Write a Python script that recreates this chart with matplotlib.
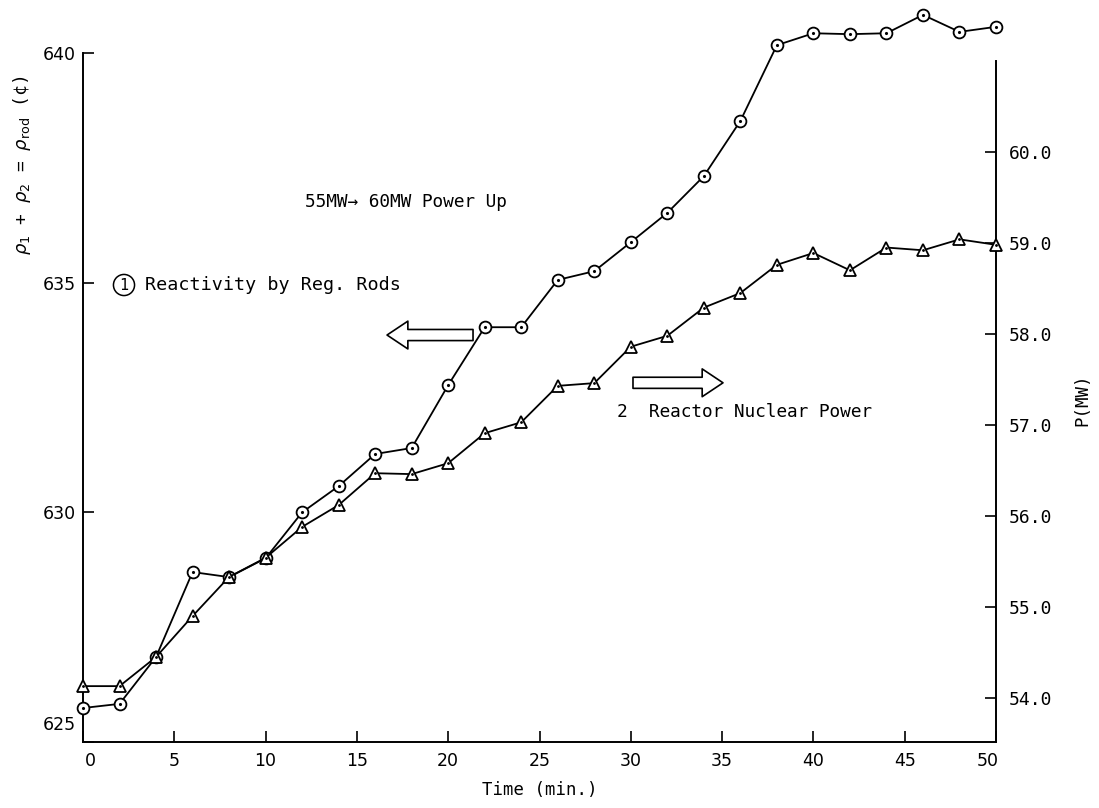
import numpy as np
import matplotlib
matplotlib.use("Agg")
import matplotlib.pyplot as plt
from matplotlib.transforms import ScaledTranslation

# ----------------------------
# Data: 55MW -> 60MW power up
# ----------------------------
time_min = [0, 2, 4, 6, 8, 10, 12, 14, 16, 18, 20, 22, 24, 26, 28, 30,
            32, 34, 36, 38, 40, 42, 44, 46, 48, 50]

# reactivity of the regulating rods (left axis)
rho_rod = [625.74, 625.83, 626.85, 628.70, 628.59, 629.00, 630.00, 630.57,
           631.27, 631.40, 632.77, 634.03, 634.03, 635.06, 635.25, 635.88,
           636.52, 637.32, 638.52, 640.17, 640.43, 640.41, 640.43, 640.83,
           640.46, 640.57]

# reactor nuclear power (right axis)
power_mw = [54.13, 54.13, 54.45, 54.90, 55.33, 55.54, 55.88, 56.12, 56.47,
            56.46, 56.58, 56.91, 57.03, 57.43, 57.46, 57.86, 57.98, 58.29,
            58.45, 58.76, 58.89, 58.70, 58.95, 58.92, 59.04, 58.98]

x_ticks = [0, 5, 10, 15, 20, 25, 30, 35, 40, 45, 50]
rho_ticks = [625, 630, 635, 640]
power_ticks = [54.0, 55.0, 56.0, 57.0, 58.0, 59.0, 60.0]

W, H = 1099, 808
MONO = "DejaVu Sans Mono"

def fx(x):
    return x / W

def fy(y):
    return 1 - y / H

fig = plt.figure(figsize=(W / 100, H / 100), dpi=100)
ax = fig.add_axes([fx(83), fy(742), (996 - 83) / W, (742 - 53) / H])
ax2 = ax.twinx()

# ----------------------------
# Series
# ----------------------------
ax.plot(time_min, rho_rod, color="black", lw=1.3, marker="o", ms=8.5,
        mfc="white", mec="black", mew=1.3, clip_on=False, zorder=3)
ax.plot(time_min, rho_rod, ls="none", marker=".", ms=2.5, color="black",
        clip_on=False, zorder=4)

ax2.plot(time_min, power_mw, color="black", lw=1.3, marker="^", ms=9,
         mfc="white", mec="black", mew=1.3, clip_on=False, zorder=3)
ax2.plot(time_min, power_mw, ls="none", marker=".", ms=2, color="black",
         clip_on=False, zorder=4)

# ----------------------------
# Axes
# ----------------------------
ax.set_xlim(0, 50)
ax.set_ylim(625, 640)
ax2.set_ylim(53.516, 61.088)

for s in ["top", "right"]:
    ax.spines[s].set_visible(False)
for s in ["top", "left", "bottom"]:
    ax2.spines[s].set_visible(False)
ax2.spines["right"].set_bounds(53.516, 61.0)
for sp in [ax.spines["left"], ax.spines["bottom"], ax2.spines["right"]]:
    sp.set_linewidth(1.4)

ax.set_xticks(x_ticks)
ax.set_xticklabels([str(t) for t in x_ticks])
ax.set_yticks(rho_ticks)
ax.set_yticklabels([str(t) for t in rho_ticks])
ax2.set_yticks(power_ticks)
ax2.set_yticklabels([f"{p:.1f}" for p in power_ticks], family=MONO)

ax.tick_params(axis="x", direction="in", length=8, width=1.2, pad=7,
               labelsize=12.5)
ax.tick_params(axis="y", direction="in", length=8, width=1.2, pad=5,
               labelsize=12.5)
ax2.tick_params(axis="y", direction="in", length=8, width=1.2, pad=9,
                labelsize=13)

# nudge corner labels off the spines
xl = ax.get_xticklabels()
xl[0].set_transform(xl[0].get_transform() + ScaledTranslation(7 / 100, 0, fig.dpi_scale_trans))
xl[-1].set_transform(xl[-1].get_transform() + ScaledTranslation(-8 / 100, 0, fig.dpi_scale_trans))
yl = ax.get_yticklabels()
yl[0].set_transform(yl[0].get_transform() + ScaledTranslation(0, 19 / 100, fig.dpi_scale_trans))

# ----------------------------
# Labels and notes
# ----------------------------
fig.text(fx(22), fy(165), r"$\rho_1$ + $\rho_2$ = $\rho_{\rm rod}$ (¢)",
         rotation=90, ha="center", va="center", fontsize=13, family=MONO)
fig.text(fx(1082), fy(400), "P(MW)", rotation=90, ha="center", va="center",
         fontsize=12.5, family=MONO)
fig.text(fx(540), fy(790), "Time (min.)", ha="center", va="center",
         fontsize=12.5, family=MONO)

fig.text(fx(305), fy(202), "55MW\u2192 60MW Power Up", ha="left", va="center",
         fontsize=12.8, family=MONO)
fig.text(fx(124), fy(285), "1", ha="center", va="center", fontsize=11,
         family=MONO, bbox=dict(boxstyle="circle,pad=0.2", fc="white",
                                ec="black", lw=1.1))
fig.text(fx(145), fy(285), "Reactivity by Reg. Rods", ha="left", va="center",
         fontsize=13.2, family=MONO)
fig.text(fx(617), fy(412), "2  Reactor Nuclear Power", ha="left",
         va="center", fontsize=12.8, family=MONO)

arrow_style = "simple,head_length=0.75,head_width=1.0,tail_width=0.4"
ax.annotate("", xy=(16.65, 633.86), xytext=(21.36, 633.86),
            arrowprops=dict(arrowstyle=arrow_style, fc="white", ec="black",
                            lw=1.2, mutation_scale=20, shrinkA=0, shrinkB=0))
ax.annotate("", xy=(35.05, 632.82), xytext=(30.12, 632.82),
            arrowprops=dict(arrowstyle=arrow_style, fc="white", ec="black",
                            lw=1.2, mutation_scale=20, shrinkA=0, shrinkB=0))

fig.savefig("out.png", dpi=100)
